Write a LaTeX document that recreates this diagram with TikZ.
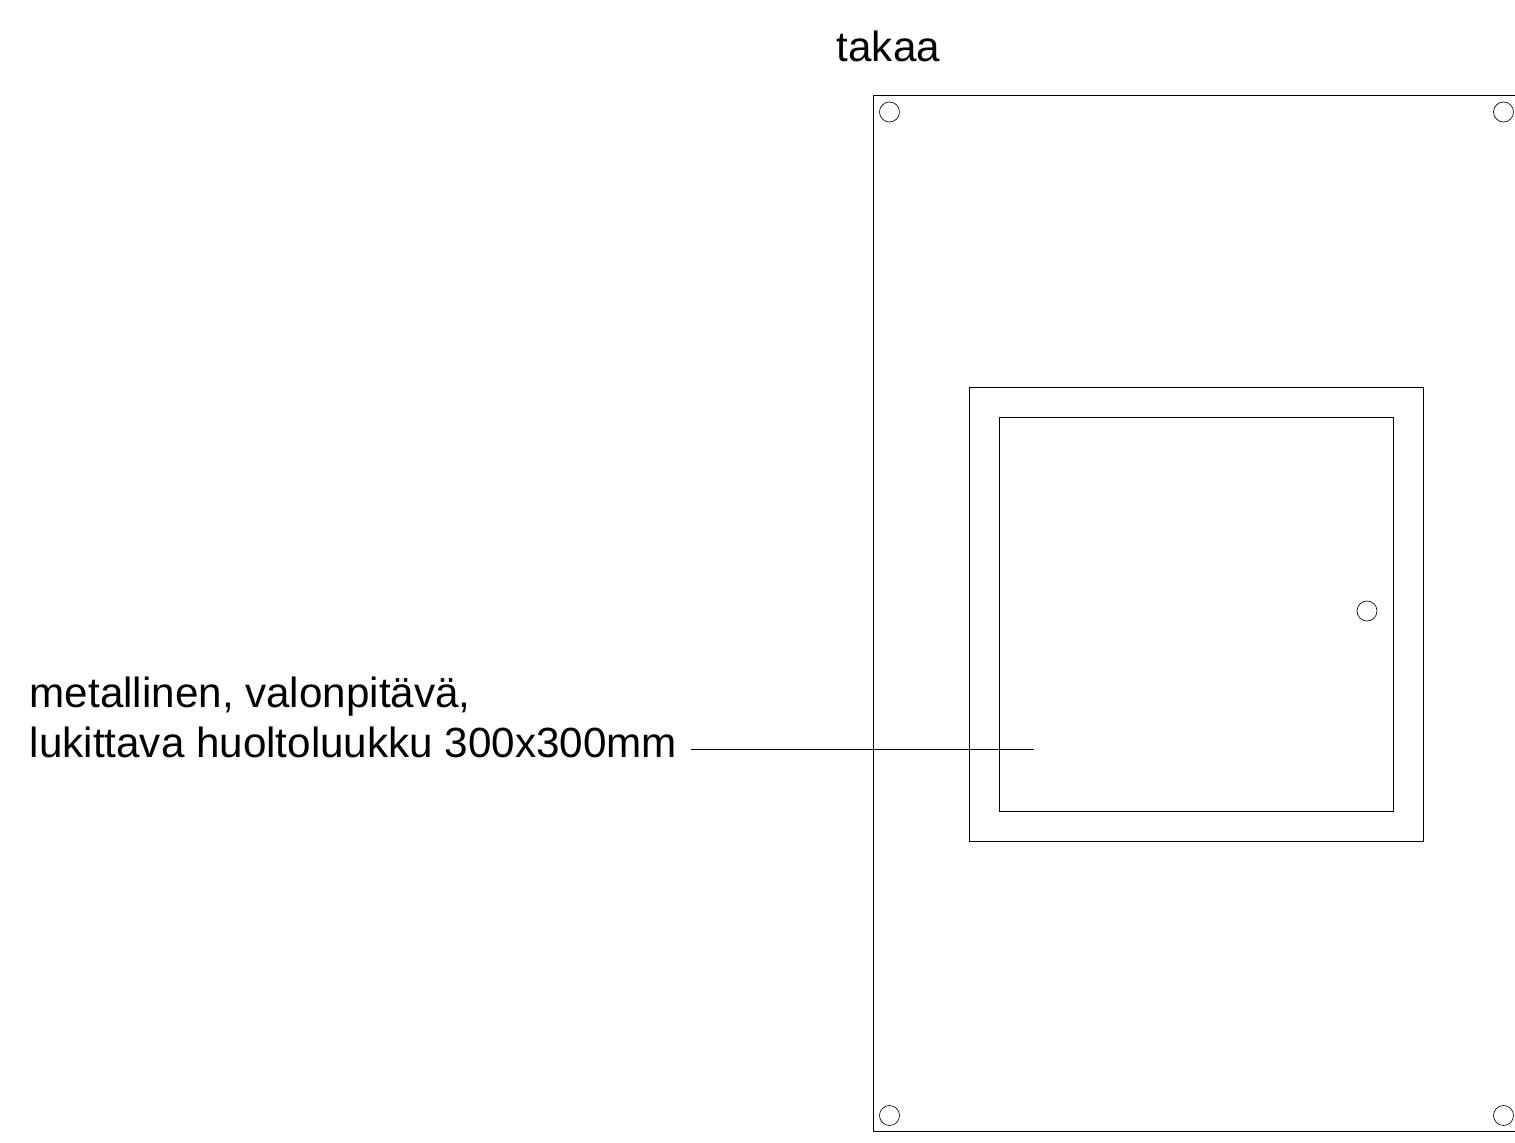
\documentclass[tikz,border=0pt]{standalone}
\usepackage{fontspec}
\setmainfont{Liberation Sans}
\begin{document}
\begin{tikzpicture}[x=0.5pt,y=-0.5pt,
  outline/.style={draw=black,line width=0.32pt},
  hole/.style={draw=black,line width=0.32pt,circle,minimum size=10pt,inner sep=0pt},
  label/.style={inner sep=0pt,anchor=base west,font=\fontsize{21.1pt}{24.5pt}\selectfont}]
\useasboundingbox (0,0) rectangle (1515,1143);
\draw[outline] (1515,95.8) -- (873.6,95.8) -- (873.6,1131.8) -- (1515,1131.8);
\draw[outline] (969.6,387.6) rectangle (1423,841);
\draw[outline] (999.6,417.6) rectangle (1393,811);
\node[hole] (h1) at (889.5,112) {};
\node[hole] (h2) at (1503.5,112) {};
\node[hole] (h3) at (889.5,1115.5) {};
\node[hole] (h4) at (1503.5,1115.5) {};
\node[hole] (h5) at (1367,611) {};
\node[label] (title) at (836.3,62) {takaa};
\node[label] (l1) at (29.3,708) {metallinen, valonpitävä,};
\node[label] (l2) at (29.3,757) {lukittava huoltoluukku 300x300mm};
\coordinate (ls) at (691,749);
\coordinate (le) at (1034,749);
\draw[outline] (ls) -- (le);
\end{tikzpicture}
\end{document}
